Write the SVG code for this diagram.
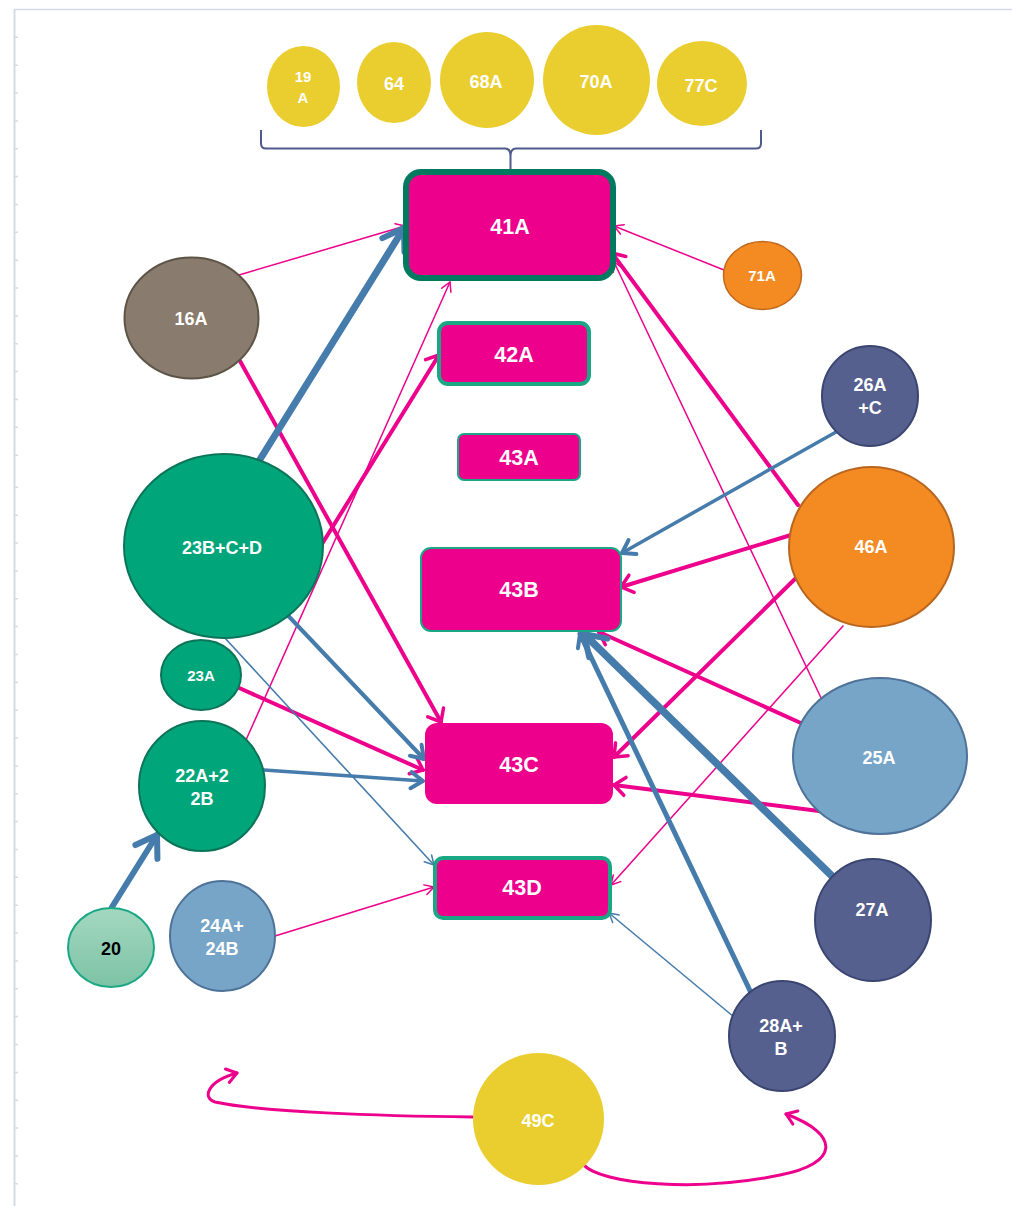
<svg xmlns="http://www.w3.org/2000/svg" width="1012" height="1206" viewBox="0 0 1012 1206">
<style>
text{font-family:"Liberation Sans",Arial,sans-serif;font-weight:bold;fill:#fff;text-anchor:middle}
.t18{font-size:18px}.t22{font-size:21.5px}.t15{font-size:15px}
.y{fill:#EACE30}
.box{fill:#EC008C}
.cp{fill:none;stroke:#EC008C;stroke-linecap:round}
.cb{fill:none;stroke:#467CAB;stroke-linecap:round}
.mp{fill:none;stroke:#EC008C;stroke-linecap:round;stroke-linejoin:round}
.mb{fill:none;stroke:#467CAB;stroke-linecap:round;stroke-linejoin:round}
.navy{fill:#55608F;stroke:#3B4571;stroke-width:2}
.lb{fill:#76A5C8;stroke:#4E7298;stroke-width:2}
.gr{fill:#00A57A;stroke:#0C7459;stroke-width:2}
</style>
<defs>
<linearGradient id="g20" x1="0" y1="0" x2="0" y2="1"><stop offset="0" stop-color="#A3D8C1"/><stop offset="1" stop-color="#7DC3A5"/></linearGradient>
<marker id="aPs" markerUnits="userSpaceOnUse" markerWidth="12" markerHeight="12" refX="9" refY="5" orient="auto" overflow="visible"><path class="mp" stroke-width="1.5" d="M0,0 L9,5 L0,10"/></marker>
<marker id="aPl" markerUnits="userSpaceOnUse" markerWidth="14" markerHeight="20" refX="11" refY="9" orient="auto" overflow="visible"><path class="mp" stroke-width="3.5" d="M0,0 L11,9 L0,18"/></marker>
<marker id="aPc" markerUnits="userSpaceOnUse" markerWidth="14" markerHeight="16" refX="10" refY="7" orient="auto" overflow="visible"><path class="mp" stroke-width="3" d="M0,0 L10,7 L0,14"/></marker>
<marker id="aBs" markerUnits="userSpaceOnUse" markerWidth="12" markerHeight="12" refX="9" refY="5" orient="auto" overflow="visible"><path class="mb" stroke-width="1.5" d="M0,0 L9,5 L0,10"/></marker>
<marker id="aBm" markerUnits="userSpaceOnUse" markerWidth="14" markerHeight="18" refX="12" refY="8" orient="auto" overflow="visible"><path class="mb" stroke-width="4" d="M0,0 L12,8 L0,16"/></marker>
<marker id="aBl" markerUnits="userSpaceOnUse" markerWidth="24" markerHeight="28" refX="20" refY="13" orient="auto" overflow="visible"><path class="mb" stroke-width="6" d="M0,0 L20,13 L0,26"/></marker>
</defs>
<rect width="1012" height="1206" fill="#fff"/>
<g id="frame" stroke="#D3DCE6" fill="none">
<path d="M14,9.5 H1012" stroke-width="1.5"/>
<path d="M14.5,9 V1206" stroke-width="2"/>
<path stroke-width="1.5" d="M15,37.3h3M15,65.2h3M15,93h3M15,120.9h3M15,148.7h3M15,176.6h3M15,204.5h3M15,232.3h3M15,260.2h3M15,288h3M15,315.9h3M15,343.8h3M15,371.6h3M15,399.5h3M15,427.3h3M15,455.2h3M15,487.3h3M15,515.2h3M15,543h3M15,570.9h3M15,598.7h3M15,626.6h3M15,654.5h3M15,682.3h3M15,710.2h3M15,738h3M15,765.9h3M15,793.8h3M15,821.6h3M15,849.5h3M15,877.3h3M15,905.2h3M15,933.1h3M15,960.9h3M15,988.8h3M15,1016.6h3M15,1044.5h3M15,1072.4h3M15,1100.2h3M15,1128.1h3M15,1155.9h3M15,1183.8h3"/>
</g>
<g id="connectors">
<path id="brace" d="M261,130 V143.5 Q261,148.5 266,148.5 H505 Q510.5,148.5 510.5,156 V170 M510.5,156 Q510.5,148.5 516,148.5 H756 Q761,148.5 761,143.5 V130" fill="none" stroke="#4F5A8C" stroke-width="2"/>
<!-- thin pink -->
<path class="cp" stroke-width="1.5" marker-end="url(#aPs)" d="M239,275 L405,226"/>
<path class="cp" stroke-width="1.5" marker-end="url(#aPs)" d="M724,270 L614,226"/>
<path class="cp" stroke-width="1.5" marker-end="url(#aPs)" d="M246,740 L450,282"/>
<path class="cp" stroke-width="1.5" marker-end="url(#aPs)" d="M823,702 L614,262"/>
<path class="cp" stroke-width="1.5" marker-end="url(#aPs)" d="M843,626 L611,885"/>
<path class="cp" stroke-width="1.5" marker-end="url(#aPs)" d="M275,936 L434,887"/>
<!-- thick pink -->
<path class="cp" stroke-width="4" marker-end="url(#aPl)" d="M240,361 L441,722"/>
<path class="cp" stroke-width="4" marker-end="url(#aPl)" d="M322,544 L439,355"/>
<path class="cp" stroke-width="4" marker-end="url(#aPl)" d="M798,505 L612,253"/>
<path class="cp" stroke-width="4" marker-end="url(#aPl)" d="M791,535 L621,587"/>
<path class="cp" stroke-width="4" marker-end="url(#aPl)" d="M797,577 L614,757"/>
<path class="cp" stroke-width="4" marker-end="url(#aPl)" d="M803,724 L599,632"/>
<path class="cp" stroke-width="4" marker-end="url(#aPl)" d="M819,811 L614,785"/>
<path class="cp" stroke-width="4" marker-end="url(#aPl)" d="M237,687 L423,770"/>
<!-- blue -->
<path class="cb" stroke-width="7" marker-end="url(#aBl)" d="M259,461 L404,228"/>
<path class="cb" stroke-width="6" marker-end="url(#aBl)" d="M112,907 L157,835"/>
<path class="cb" stroke-width="3.5" marker-end="url(#aBm)" d="M836,432 L622,553"/>
<path class="cb" stroke-width="4" marker-end="url(#aBm)" d="M278,605 L424,759"/>
<path class="cb" stroke-width="3.5" marker-end="url(#aBm)" d="M264,770 L423,781"/>
<path class="cb" stroke-width="1.6" marker-end="url(#aBs)" d="M224,637 L434,865"/>
<path class="cb" stroke-width="7.5" marker-end="url(#aBl)" d="M833,877 L584,634"/>
<path class="cb" stroke-width="5" marker-end="url(#aBm)" d="M753,997 L580,634"/>
<path class="cb" stroke-width="1.6" marker-end="url(#aBs)" d="M734,1017 L609,913"/>
<!-- curves -->
<path class="cp" stroke-width="3" marker-end="url(#aPc)" d="M473,1117 C380,1116 260,1112 215,1102 C203,1099 205,1082 237,1073"/>
<path class="cp" stroke-width="3" marker-end="url(#aPc)" d="M583,1164 C600,1185 700,1192 780,1175 C838,1164 842,1135 786,1114"/>
</g>
<g id="n19A"><ellipse class="y" cx="303.5" cy="86.5" rx="36.5" ry="40.5"/><text class="t15" x="303" y="82">19</text><text class="t15" x="303" y="103">A</text></g>
<g id="n64"><ellipse class="y" cx="394" cy="82.5" rx="37" ry="40.5"/><text class="t18" x="394" y="90">64</text></g>
<g id="n68A"><ellipse class="y" cx="487" cy="80" rx="47" ry="48"/><text class="t18" x="486" y="88">68A</text></g>
<g id="n70A"><ellipse class="y" cx="596.5" cy="80" rx="53.5" ry="55"/><text class="t18" x="596" y="88">70A</text></g>
<g id="n77C"><ellipse class="y" cx="702" cy="83.5" rx="45" ry="42.5"/><text class="t18" x="701" y="92">77C</text></g>
<g id="n41A"><rect class="box" x="406" y="172" width="207" height="106" rx="15" stroke="#007A5E" stroke-width="6"/><text class="t22" x="510" y="234">41A</text></g>
<g id="n42A"><rect class="box" x="439" y="323" width="150" height="61" rx="9" stroke="#1AA884" stroke-width="4"/><text class="t22" x="514" y="362">42A</text></g>
<g id="n43A"><rect class="box" x="458" y="434" width="122" height="46" rx="6" stroke="#1AA884" stroke-width="2"/><text class="t22" x="519" y="465">43A</text></g>
<g id="n43B"><rect class="box" x="421" y="548" width="200" height="83" rx="10" stroke="#1AA884" stroke-width="2"/><text class="t22" x="519" y="597">43B</text></g>
<g id="n43C"><rect class="box" x="425" y="723" width="188" height="81" rx="12"/><text class="t22" x="519" y="772">43C</text></g>
<g id="n43D"><rect class="box" x="435" y="858" width="175" height="60" rx="8" stroke="#1AA884" stroke-width="4"/><text class="t22" x="522" y="895">43D</text></g>
<g id="n16A"><ellipse cx="191.5" cy="318" rx="67" ry="60.5" fill="#897C6E" stroke="#5D5446" stroke-width="2"/><text class="t18" x="191" y="325">16A</text></g>
<g id="n71A"><ellipse cx="762.5" cy="275.5" rx="39" ry="34" fill="#F48A22" stroke="#C0691E" stroke-width="1.5"/><text class="t15" x="762" y="281">71A</text></g>
<g id="n26AC"><ellipse class="navy" cx="870" cy="396" rx="48" ry="50"/><text class="t18" x="870" y="391">26A</text><text class="t18" x="870" y="414">+C</text></g>
<g id="n46A"><ellipse cx="871.5" cy="547" rx="82.5" ry="80" fill="#F48A22" stroke="#B8661F" stroke-width="2"/><text class="t18" x="871" y="553">46A</text></g>
<g id="n25A"><ellipse class="lb" cx="880" cy="756" rx="87" ry="78"/><text class="t18" x="879" y="764">25A</text></g>
<g id="n27A"><ellipse class="navy" cx="873" cy="920" rx="58" ry="61"/><text class="t18" x="872" y="916">27A</text></g>
<g id="n28AB"><ellipse class="navy" cx="782" cy="1036" rx="53" ry="55"/><text class="t18" x="781" y="1032">28A+</text><text class="t18" x="781" y="1055">B</text></g>
<g id="n49C"><ellipse class="y" cx="538.5" cy="1119" rx="65.5" ry="66"/><text class="t18" x="538" y="1127">49C</text></g>
<g id="n23BCD"><ellipse class="gr" cx="223.5" cy="546" rx="99.5" ry="92"/><text class="t18" x="222" y="554">23B+C+D</text></g>
<g id="n23A"><ellipse class="gr" cx="201" cy="675" rx="40" ry="35"/><text class="t15" x="201" y="681">23A</text></g>
<g id="n22A22B"><ellipse class="gr" cx="202" cy="786" rx="63" ry="65"/><text class="t18" x="202" y="782">22A+2</text><text class="t18" x="202" y="805">2B</text></g>
<g id="n20"><ellipse cx="111" cy="947.5" rx="43" ry="39.5" fill="url(#g20)" stroke="#1AA884" stroke-width="2"/><text class="t18" x="111" y="955" style="fill:#000">20</text></g>
<g id="n24A24B"><ellipse class="lb" cx="222.5" cy="936" rx="52.5" ry="55"/><text class="t18" x="222" y="932">24A+</text><text class="t18" x="222" y="955">24B</text></g>
</svg>
